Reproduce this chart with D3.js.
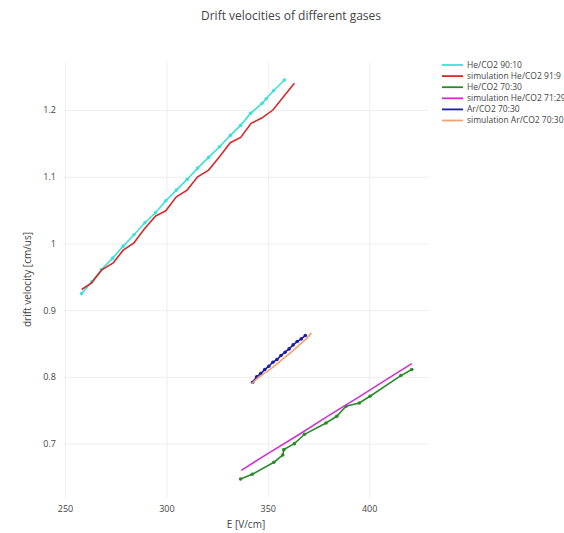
<!DOCTYPE html>
<meta charset="utf-8">
<style>
body { margin: 0; background: #fff; }
text { font-family: "Open Sans", sans-serif; fill: #444; }
.grid line { stroke: #eee; stroke-width: 1; }
</style>
<svg width="564" height="533"></svg>
<script src="https://cdn.jsdelivr.net/npm/d3@7"></script>
<script>

// series data
var heE = [258.2, 263.1, 268, 273.5, 278.7, 284, 289.4, 294.6, 299.7, 304.9, 310.2, 315.4, 320.8, 326.2, 331.5, 336.6, 341.5, 347.2, 349.2, 352.8, 358.2];
var heV = [0.925, 0.942, 0.961, 0.978, 0.996, 1.013, 1.031, 1.046, 1.064, 1.080, 1.096, 1.113, 1.129, 1.145, 1.162, 1.177, 1.195, 1.210, 1.217, 1.229, 1.245];

var simHeE = [258.2, 263.1, 268, 273.8, 278.7, 284, 289.2, 294.6, 299.7, 304.9, 310.2, 315.4, 320.8, 326.2, 331.5, 336.6, 341.8, 347, 352.5, 363.1];
var simHeV = [0.931, 0.941, 0.960, 0.971, 0.990, 1.001, 1.022, 1.041, 1.049, 1.070, 1.080, 1.100, 1.110, 1.130, 1.151, 1.159, 1.180, 1.188, 1.200, 1.240];

var he70E = [336.6, 342.3, 353, 357.4, 357.9, 363.1, 368.1, 378.7, 384, 388.6, 395.1, 400.4, 415.6, 421];
var he70V = [0.647, 0.654, 0.672, 0.683, 0.691, 0.700, 0.714, 0.731, 0.741, 0.756, 0.761, 0.771, 0.802, 0.811];

var simHe71E = [336.9, 350, 365, 380, 395, 410, 421];
var simHe71V = [0.660, 0.685, 0.713, 0.742, 0.770, 0.799, 0.820];

var arE = [342.5, 344.5, 346.5, 348.5, 350.5, 352.5, 354.5, 356.5, 358.5, 360.5, 362.5, 364.5, 366.5, 368.5];
var arV = [0.792, 0.800, 0.805, 0.811, 0.816, 0.822, 0.826, 0.832, 0.837, 0.842, 0.848, 0.853, 0.857, 0.862];

var simArE = [342, 345, 348, 351, 354, 357, 360, 363, 366, 369, 371.5];
var simArV = [0.790, 0.798, 0.805, 0.811, 0.818, 0.826, 0.833, 0.841, 0.849, 0.857, 0.866];

var names = ["He/CO2 90:10", "simulation He/CO2 91:9", "He/CO2 70:30",
             "simulation He/CO2 71:29", "Ar/CO2 70:30", "simulation Ar/CO2 70:30"];
var colors = ["#3fe0d8", "#d42a2a", "#2a8a2a", "#cc33cc", "#1c1ca8", "#f4a070"];
var markers = [true, false, true, false, true, false];
var xs = [heE, simHeE, he70E, simHe71E, arE, simArE];
var ys = [heV, simHeV, he70V, simHe71V, arV, simArV];

var xTicks = [250, 300, 350, 400];
var yTicks = [0.7, 0.8, 0.9, 1, 1.1, 1.2];

var svg = d3.select("svg"),
    margin = {top: 62, right: 136, bottom: 36, left: 64},
    width = +svg.attr("width") - margin.left - margin.right,
    height = +svg.attr("height") - margin.top - margin.bottom;

var x = d3.scaleLinear().domain([249.5, 429]).range([0, width]),
    y = d3.scaleLinear().domain([0.62, 1.272]).range([height, 0]);

var g = svg.append("g")
    .attr("transform", "translate(" + margin.left + "," + margin.top + ")");

g.append("g")
    .attr("class", "grid")
    .call(d3.axisBottom(x).tickValues(xTicks).tickSize(height).tickFormat(""))
    .call(function(s) { s.select(".domain").remove(); });

g.append("g")
    .attr("class", "grid")
    .attr("transform", "translate(" + width + ",0)")
    .call(d3.axisLeft(y).tickValues(yTicks).tickSize(width).tickFormat(""))
    .call(function(s) { s.select(".domain").remove(); });

g.append("g")
    .attr("transform", "translate(0," + height + ")")
    .call(d3.axisBottom(x).tickValues(xTicks).tickSize(0).tickPadding(9).tickFormat(d3.format("d")))
    .call(function(s) {
      s.select(".domain").remove();
      s.selectAll("text").style("font-size", "9px").style("fill", "#444");
    });

g.append("g")
    .call(d3.axisLeft(y).tickValues(yTicks).tickSize(0).tickPadding(8).tickFormat(function(d) { return d3.format("")(d); }))
    .call(function(s) {
      s.select(".domain").remove();
      s.selectAll("text").style("font-size", "9px").style("fill", "#444");
    });

var line = d3.line()
    .x(function(d) { return x(d[0]); })
    .y(function(d) { return y(d[1]); });

xs.forEach(function(xv, i) {
  var pts = xv.map(function(e, j) { return [e, ys[i][j]]; });
  g.append("path")
      .datum(pts)
      .attr("fill", "none")
      .attr("stroke", colors[i])
      .attr("stroke-width", 1.6)
      .attr("d", line);
  if (markers[i]) {
    g.selectAll(".m" + i)
      .data(pts)
      .enter().append("circle")
        .attr("class", "m" + i)
        .attr("cx", function(d) { return x(d[0]); })
        .attr("cy", function(d) { return y(d[1]); })
        .attr("r", 1.8)
        .attr("fill", colors[i]);
  }
});

svg.append("text")
    .attr("x", 291)
    .attr("y", 20)
    .attr("text-anchor", "middle")
    .style("font-size", "12px")
    .text("Drift velocities of different gases");

svg.append("text")
    .attr("x", margin.left + width / 2)
    .attr("y", 528)
    .attr("text-anchor", "middle")
    .style("font-size", "10px")
    .text("E [V/cm]");

svg.append("text")
    .attr("transform", "translate(31," + (margin.top + height / 2) + ") rotate(-90)")
    .attr("text-anchor", "middle")
    .style("font-size", "10px")
    .text("drift velocity [cm/us]");

var legend = svg.append("g")
    .attr("transform", "translate(442,65)");

var item = legend.selectAll("g")
    .data(names)
    .enter().append("g")
      .attr("transform", function(d, i) { return "translate(0," + (i * 11.1) + ")"; });

item.append("line")
    .attr("x1", 0).attr("x2", 21)
    .attr("stroke", function(d, i) { return colors[i]; })
    .attr("stroke-width", 1.8);

item.append("text")
    .attr("x", 25)
    .attr("dy", "0.35em")
    .style("font-size", "8.5px")
    .text(function(d) { return d; });

</script>
